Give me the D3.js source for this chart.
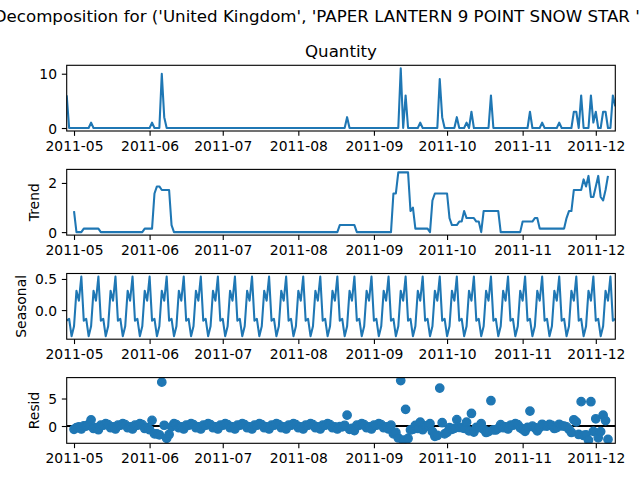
<!DOCTYPE html>
<html><head><meta charset="utf-8">
<script src="https://cdn.jsdelivr.net/npm/d3@7"></script>
<style>body{margin:0;background:#fff} svg{display:block} text{font-family:"DejaVu Sans",sans-serif;fill:#000}</style>
</head><body><svg id="c" width="640" height="480"></svg>
<script>
const titleText = "Decomposition for ('United Kingdom', 'PAPER LANTERN 9 POINT SNOW STAR ')";
const startDate = "2011-04-28";
const monthTicks = ["2011-05-01","2011-06-01","2011-07-01","2011-08-01","2011-09-01","2011-10-01","2011-11-01","2011-12-01"];
const quantityTicks = [0, 10];
const trendTicks = [0, 2];
const seasonalTicks = [0.0, 0.5];
const residTicks = [0, 5];

const quantity = [
6,0,0,0,0,0,0, 0,0,0,1,0,0,0, 0,0,0,0,0,0,0, 0,0,0,0,0,0,0, 0,0,0,0,0,0,0,
1,0,0,0,10,2,0, 0,0,0,0,0,0,0,
0,0,0,0,0,0,0, 0,0,0,0,0,0,0, 0,0,0,0,0,0,0, 0,0,0,0,0,0,0, 0,0,0,0,0,0,0,
0,0,0,0,0,0,0, 0,0,0,0,0,0,0, 0,0,0,0,0,0,0, 0,0,0,0,0,0,0,
0,0,0,2,0,0,0, 0,0,0,0,0,0,0, 0,0,0,0,0,0,0,
0,0,0,0,11,0,6, 0,0,0,0,0,1,0, 0,0,0,0,0,0,9, 2,0,0,0,0,0,2,
0,0,0,1,0,3,0, 0,0,0,0,0,0,6, 0,0,0,0,0,0,0, 0,0,0,0,0,0,0,
0,3,0,0,0,0,1, 0,0,0,0,0,0,1, 0,0,0,0,0,3,3, 0,6,0,0,0,6,1,
3,0,0,3,3,0,0, 6,4
];

const trend = [
null,null,null,0.857,0,0,0, 0.143,0.143,0.143,0.143,0.143,0.143,0.143,
0,0,0,0,0,0,0, 0,0,0,0,0,0,0, 0,0,0,0,0.143,0.143,0.143,
0.143,1.571,1.857,1.857,1.714,1.714,1.714, 1.714,0.286,0,0,0,0,0,
0,0,0,0,0,0,0, 0,0,0,0,0,0,0, 0,0,0,0,0,0,0, 0,0,0,0,0,0,0, 0,0,0,0,0,0,0,
0,0,0,0,0,0,0, 0,0,0,0,0,0,0, 0,0,0,0,0,0,0, 0,0,0,0,0,0,0,
0.286,0.286,0.286,0.286,0.286,0.286,0.286, 0,0,0,0,0,0,0, 0,0,0,0,0,0,0,
0,1.571,1.571,2.429,2.429,2.429,2.429, 2.429,0.857,1,0.143,0.143,0.143,0.143,
0.143,0.143,0,1.286,1.571,1.571,1.571, 1.571,1.571,1.571,0.571,0.286,0.286,0.286,
0.429,0.429,0.857,0.571,0.571,0.571,0.571, 0.429,0.429,0,0.857,0.857,0.857,0.857,
0.857,0.857,0.857,0,0,0,0, 0,0,0,0,0,0.429,0.429,
0.429,0.429,0.429,0.571,0.571,0.143,0.143, 0.143,0.143,0.143,0.143,0.143,0.143,0.143,
0.143,0.143,0.571,0.857,0.857,1.714,1.714, 1.714,1.714,2.143,1.857,2.286,1.429,1.429,
1.857,2.286,1.429,1.286,1.714,2.286,null, null,null
];

const seasonal = [
-0.17,-0.14,-0.42,-0.26,0.31,0.15,0.54, -0.17,-0.14,-0.42,-0.26,0.31,0.15,0.54,
-0.17,-0.14,-0.42,-0.26,0.31,0.15,0.54, -0.17,-0.14,-0.42,-0.26,0.31,0.15,0.54,
-0.17,-0.14,-0.42,-0.26,0.31,0.15,0.54, -0.17,-0.14,-0.42,-0.26,0.31,0.15,0.54,
-0.17,-0.14,-0.42,-0.26,0.31,0.15,0.54, -0.17,-0.14,-0.42,-0.26,0.31,0.15,0.54,
-0.17,-0.14,-0.42,-0.26,0.31,0.15,0.54, -0.17,-0.14,-0.42,-0.26,0.31,0.15,0.54,
-0.17,-0.14,-0.42,-0.26,0.31,0.15,0.54, -0.17,-0.14,-0.42,-0.26,0.31,0.15,0.54,
-0.17,-0.14,-0.42,-0.26,0.31,0.15,0.54, -0.17,-0.14,-0.42,-0.26,0.31,0.15,0.54,
-0.17,-0.14,-0.42,-0.26,0.31,0.15,0.54, -0.17,-0.14,-0.42,-0.26,0.31,0.15,0.54,
-0.17,-0.14,-0.42,-0.26,0.31,0.15,0.54, -0.17,-0.14,-0.42,-0.26,0.31,0.15,0.54,
-0.17,-0.14,-0.42,-0.26,0.31,0.15,0.54, -0.17,-0.14,-0.42,-0.26,0.31,0.15,0.54,
-0.17,-0.14,-0.42,-0.26,0.31,0.15,0.54, -0.17,-0.14,-0.42,-0.26,0.31,0.15,0.54,
-0.17,-0.14,-0.42,-0.26,0.31,0.15,0.54, -0.17,-0.14,-0.42,-0.26,0.31,0.15,0.54,
-0.17,-0.14,-0.42,-0.26,0.31,0.15,0.54, -0.17,-0.14,-0.42,-0.26,0.31,0.15,0.54,
-0.17,-0.14,-0.42,-0.26,0.31,0.15,0.54, -0.17,-0.14,-0.42,-0.26,0.31,0.15,0.54,
-0.17,-0.14,-0.42,-0.26,0.31,0.15,0.54, -0.17,-0.14,-0.42,-0.26,0.31,0.15,0.54,
-0.17,-0.14,-0.42,-0.26,0.31,0.15,0.54, -0.17,-0.14,-0.42,-0.26,0.31,0.15,0.54,
-0.17,-0.14
];

const resid = [
null,null,null,-0.60,-0.31,-0.15,-0.54, 0.03,0.00,0.28,1.12,-0.45,-0.29,-0.68,
0.17,0.14,0.42,0.26,-0.31,-0.15,-0.54, 0.17,0.14,0.42,0.26,-0.31,-0.15,-0.54,
0.17,0.14,0.42,0.26,-0.45,-0.29,-0.68, 1.03,-1.43,-1.44,-1.60,7.98,0.14,-2.25,
-1.54,-0.15,0.42,0.26,-0.31,-0.15,-0.54,
0.17,0.14,0.42,0.26,-0.31,-0.15,-0.54, 0.17,0.14,0.42,0.26,-0.31,-0.15,-0.54,
0.17,0.14,0.42,0.26,-0.31,-0.15,-0.54, 0.17,0.14,0.42,0.26,-0.31,-0.15,-0.54,
0.17,0.14,0.42,0.26,-0.31,-0.15,-0.54, 0.17,0.14,0.42,0.26,-0.31,-0.15,-0.54,
0.17,0.14,0.42,0.26,-0.31,-0.15,-0.54, 0.17,0.14,0.42,0.26,-0.31,-0.15,-0.54,
0.17,0.14,0.42,0.26,-0.31,-0.15,-0.54,
-0.12,-0.15,0.13,1.97,-0.60,-0.44,-0.83,
0.17,0.14,0.42,0.26,-0.31,-0.15,-0.54, 0.17,0.14,0.42,0.26,-0.31,-0.15,-0.54,
0.17,-1.43,-1.15,-2.17,8.26,-2.58,3.03, -2.26,-0.72,-0.58,0.12,-0.45,0.71,-0.68,
0.03,0.00,0.42,-1.03,-1.88,-1.72,6.89, 0.60,-1.43,-1.15,-0.31,-0.60,-0.44,1.17,
-0.26,-0.29,-0.44,0.69,-0.88,2.28,-1.11, -0.26,-0.29,0.42,-0.60,-1.17,-1.01,4.60,
-0.69,-0.72,-0.44,0.26,-0.31,-0.15,-0.54, 0.17,0.14,0.42,0.26,-0.31,-0.58,-0.97,
-0.26,2.71,-0.01,-0.31,-0.88,-0.29,0.32, 0.03,0.00,0.28,0.12,-0.45,-0.29,0.32,
0.03,0.00,-0.15,-0.60,-1.17,1.14,0.75, -1.54,4.43,-1.72,-1.60,-2.60,4.42,-0.97,
1.31,-2.15,-1.01,1.97,0.98,-2.44,null, null,null
];

// ---- layout ----
const L = 66.7, R = 615.3, H = 65.7;
const tops = [65.3, 169.4, 273.5, 377.6];
const BLUE = "#1f77b4";
const TICK_FS = "13.89px", TITLE_FS = "16.67px";

const parse = d3.utcParse("%Y-%m-%d");
const t0 = parse(startDate);
const dates = quantity.map((_, i) => d3.utcDay.offset(t0, i));
const x = d3.scaleUtc().domain([dates[0], dates[dates.length - 1]]).range([L, R]);

const svg = d3.select("#c");
svg.append("rect").attr("width", 640).attr("height", 480).attr("fill", "#fff");
svg.append("text").attr("x", 320).attr("y", 22.3).attr("text-anchor", "middle")
  .style("font-size", TITLE_FS).text(titleText);

const panels = [
  {values: quantity, ticks: quantityTicks, fmt: d3.format("d"), label: null, title: "Quantity", kind: "line"},
  {values: trend, ticks: trendTicks, fmt: d3.format("d"), label: "Trend", kind: "line"},
  {values: seasonal, ticks: seasonalTicks, fmt: d3.format(".1f"), label: "Seasonal", kind: "line"},
  {values: resid, ticks: residTicks, fmt: d3.format("d"), label: "Resid", kind: "dots"}
];

const defs = svg.append("defs");

panels.forEach((p, i) => {
  const top = tops[i], bottom = top + H;
  const vals = p.values.filter(v => v != null);
  const [mn, mx] = d3.extent(vals);
  const pad = (mx - mn) * 0.05;
  const y = d3.scaleLinear().domain([mn - pad, mx + pad]).range([bottom, top]);
  const pts = p.values.map((v, j) => [dates[j], v]);

  defs.append("clipPath").attr("id", "clip" + i).append("rect")
    .attr("x", L).attr("y", top).attr("width", R - L).attr("height", H);
  const plot = svg.append("g").attr("clip-path", `url(#clip${i})`);

  if (p.kind === "line") {
    plot.append("path").datum(pts)
      .attr("d", d3.line().defined(d => d[1] != null).x(d => x(d[0])).y(d => y(d[1])))
      .attr("fill", "none").attr("stroke", BLUE).attr("stroke-width", 2.08)
      .attr("stroke-linejoin", "round");
  } else {
    plot.append("line")
      .attr("x1", x(dates[0])).attr("x2", x(dates[dates.length - 1]))
      .attr("y1", y(0)).attr("y2", y(0)).attr("stroke", "#000").attr("stroke-width", 2.08);
    plot.selectAll("circle").data(pts.filter(d => d[1] != null)).join("circle")
      .attr("cx", d => x(d[0])).attr("cy", d => y(d[1])).attr("r", 4.17)
      .attr("fill", BLUE).attr("stroke", BLUE).attr("stroke-width", 1.39);
  }

  // frame
  svg.append("rect").attr("x", L).attr("y", top).attr("width", R - L).attr("height", H)
    .attr("fill", "none").attr("stroke", "#000").attr("stroke-width", 1.11);

  // x axis
  const gx = svg.append("g").attr("transform", `translate(0,${bottom})`)
    .call(d3.axisBottom(x).tickValues(monthTicks.map(parse)).tickFormat(d3.utcFormat("%Y-%m"))
      .tickSize(4.86).tickPadding(4.86));
  // y axis
  const gy = svg.append("g").attr("transform", `translate(${L},0)`)
    .call(d3.axisLeft(y).tickValues(p.ticks).tickFormat(p.fmt).tickSize(4.86).tickPadding(4.86));
  [gx, gy].forEach(g => {
    g.select(".domain").remove();
    g.selectAll(".tick line").attr("stroke", "#000").attr("stroke-width", 1.11);
    g.selectAll(".tick text").style("font-size", TICK_FS).style("font-family", "DejaVu Sans").attr("fill", "#000");
  });
  gy.selectAll(".tick text").attr("dy", "0.36em");

  if (p.title) {
    svg.append("text").attr("x", (L + R) / 2).attr("y", top - 8.33).attr("text-anchor", "middle")
      .style("font-size", TITLE_FS).text(p.title);
  }
  if (p.label) {
    let maxW = 0;
    gy.selectAll(".tick text").each(function () { maxW = Math.max(maxW, this.getBBox().width); });
    const bx = L - 9.72 - maxW - 5.56 - 3.28;
    const cy = (top + bottom) / 2;
    svg.append("text").attr("transform", `translate(${bx},${cy}) rotate(-90)`)
      .attr("text-anchor", "middle").style("font-size", TICK_FS).text(p.label);
  }
});
</script></body></html>
